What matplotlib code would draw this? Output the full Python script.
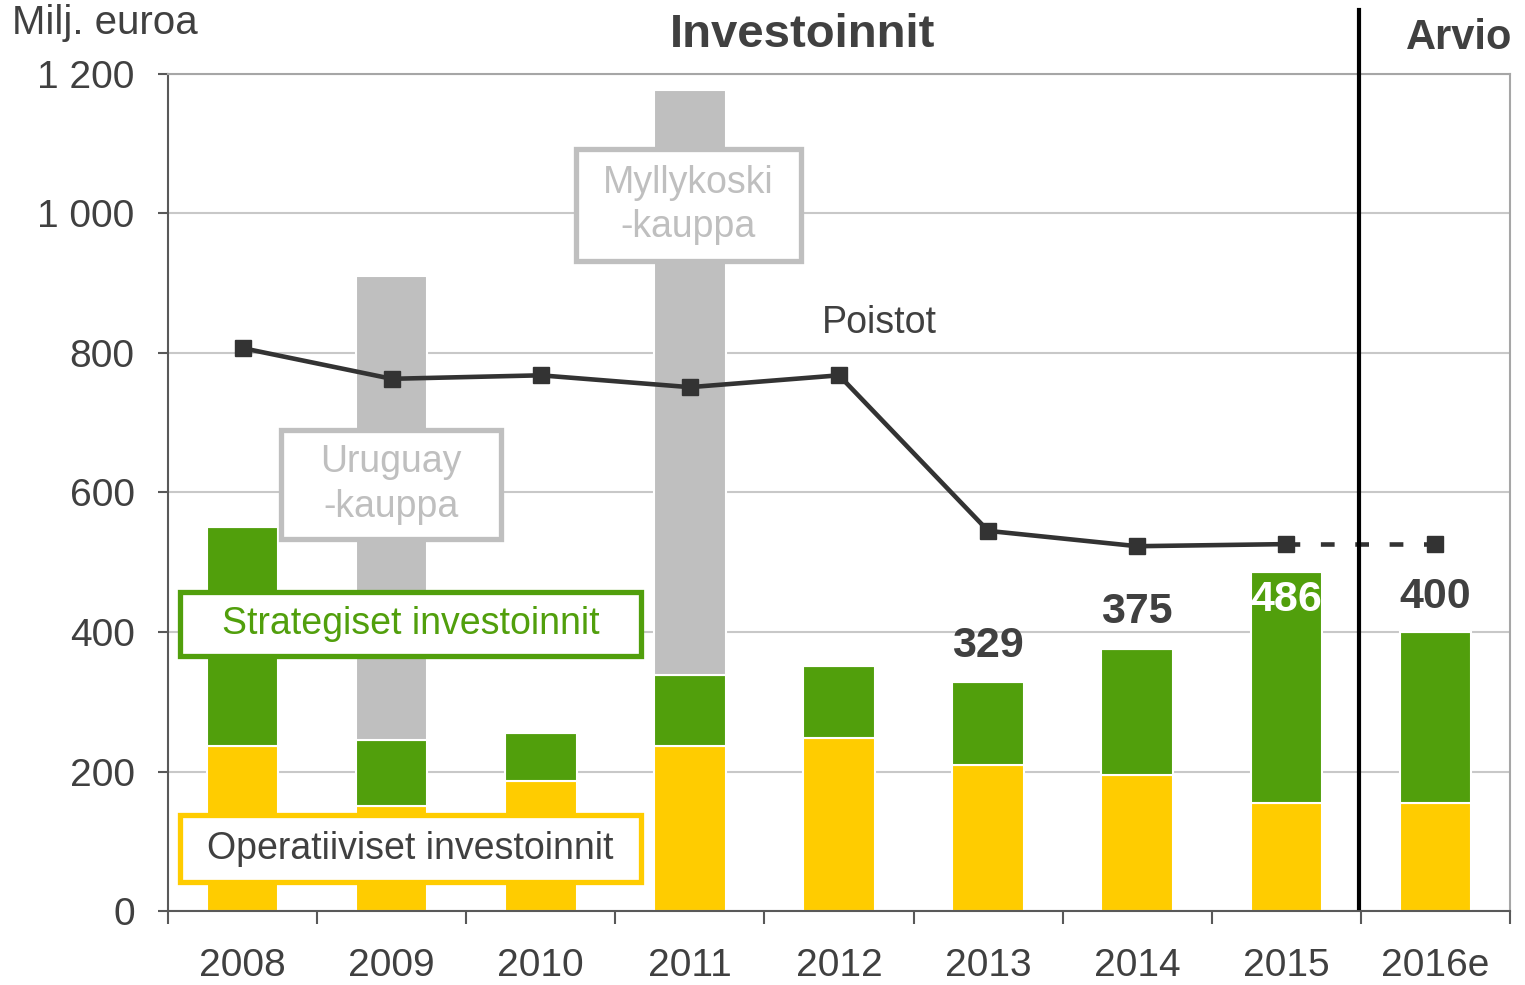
import matplotlib
matplotlib.use("Agg")
import matplotlib.pyplot as plt
from matplotlib.patches import Rectangle
import numpy as np

plt.rcParams['font.family'] = ['Liberation Sans', 'DejaVu Sans']

years = ['2008', '2009', '2010', '2011', '2012', '2013', '2014', '2015', '2016e']
operative = [236, 150, 186, 236, 248, 209, 195, 155, 155]
totals = [550, 245, 255, 338, 351, 329, 375, 486, 400]
strategic = [t - o for t, o in zip(totals, operative)]
acquisitions = [0, 665, 0, 839, 0, 0, 0, 0, 0]
depreciation = [807, 763, 768, 751, 768, 545, 523, 526, 526]
value_labels = {5: '329', 6: '375', 7: '486', 8: '400'}

YELLOW = '#FFCC00'
GREEN = '#519F0C'
GREY = '#BFBFBF'
DARK = '#333333'
TXT = '#404040'

fig = plt.figure(figsize=(15.25, 9.85), dpi=100)
ax = fig.add_axes([168/1525, 1-911/985, (1510-168)/1525, (911-74)/985])

x = np.arange(len(years))
w = 0.48
ax.bar(x, operative, w, color=YELLOW, edgecolor='white', linewidth=1.5, zorder=2)
ax.bar(x, strategic, w, bottom=operative, color=GREEN, edgecolor='white', linewidth=1.5, zorder=2)
ax.bar(x, acquisitions, w, bottom=totals, color=GREY, edgecolor='white', linewidth=1.5, zorder=2)

# depreciation line
ax.plot(x[:8], depreciation[:8], color=DARK, lw=3.3, marker='s', markersize=11, zorder=4)
ax.plot(x[7:], depreciation[7:], color=DARK, lw=3.3, ls=(0, (3, 4.5)), zorder=4)
ax.plot(x[8:], depreciation[8:], color=DARK, lw=0, marker='s', markersize=11, zorder=4)

ax.set_xlim(-0.5, 8.5)
ax.set_ylim(0, 1200)
ax.set_yticks(range(0, 1201, 200))
ax.set_yticklabels(['0', '200', '400', '600', '800', '1 000', '1 200'])
ax.set_xticks(x)
ax.set_xticklabels(years)
ax.set_xticks(np.arange(-0.5, 9, 1), minor=True)
ax.tick_params(axis='x', which='major', length=0, pad=27, labelsize=28, labelcolor=TXT)
ax.tick_params(axis='x', which='minor', length=9, width=1.5, color='#595959', direction='out')
ax.tick_params(axis='y', length=7, width=1.5, color='#595959', pad=17, labelsize=28, labelcolor=TXT)

ax.yaxis.grid(True, color='#C8C8C8', lw=1.5, zorder=0)
ax.set_axisbelow(True)
for s in ['left', 'bottom']:
    ax.spines[s].set_color('#595959')
    ax.spines[s].set_linewidth(1.5)
for s in ['top', 'right']:
    ax.spines[s].set_color('#A6A6A6')
    ax.spines[s].set_linewidth(1.5)

# divider
ax.plot([7.49, 7.49], [5, 1292], color='black', lw=3, clip_on=False, zorder=5)

# value labels
label_pos = {5: 380, 6: 429, 7: 446, 8: 450}
for i, txt in value_labels.items():
    c = 'white' if i == 7 else TXT
    ax.text(x[i], label_pos[i], txt, ha='center', va='center', fontsize=31,
            fontweight='bold', color=c, zorder=6)

ax.text(4.27, 843, 'Poistot', ha='center', va='center', fontsize=27, color=TXT, zorder=6)

def box(x0, x1, y0, y1, ec, text, tc):
    r = Rectangle((x0, y0), x1 - x0, y1 - y0, facecolor='white', edgecolor=ec,
                  linewidth=3.8, zorder=7)
    ax.add_patch(r)
    ax.text((x0 + x1) / 2, (y0 + y1) / 2, text, ha='center', va='center',
            fontsize=27, color=tc, zorder=8, linespacing=1.3)

box(0.255, 1.735, 534, 689, GREY, 'Uruguay\n-kauppa', '#BFBFBF')
box(2.235, 3.745, 932, 1092, GREY, 'Myllykoski\n-kauppa', '#BFBFBF')
box(-0.42, 2.675, 365, 458, GREEN, 'Strategiset investoinnit', GREEN)
box(-0.42, 2.675, 42, 137, YELLOW, 'Operatiiviset investoinnit', TXT)

fig.text(12/1525, 1-23/985, 'Milj. euroa', ha='left', va='center', fontsize=29, color=TXT)
fig.text(803/1525, 1-35/985, 'Investoinnit', ha='center', va='center', fontsize=34,
         fontweight='bold', color=TXT)
fig.text(1459/1525, 1-38/985, 'Arvio', ha='center', va='center', fontsize=30,
         fontweight='bold', color=TXT)

fig.savefig('out.png', dpi=100)
